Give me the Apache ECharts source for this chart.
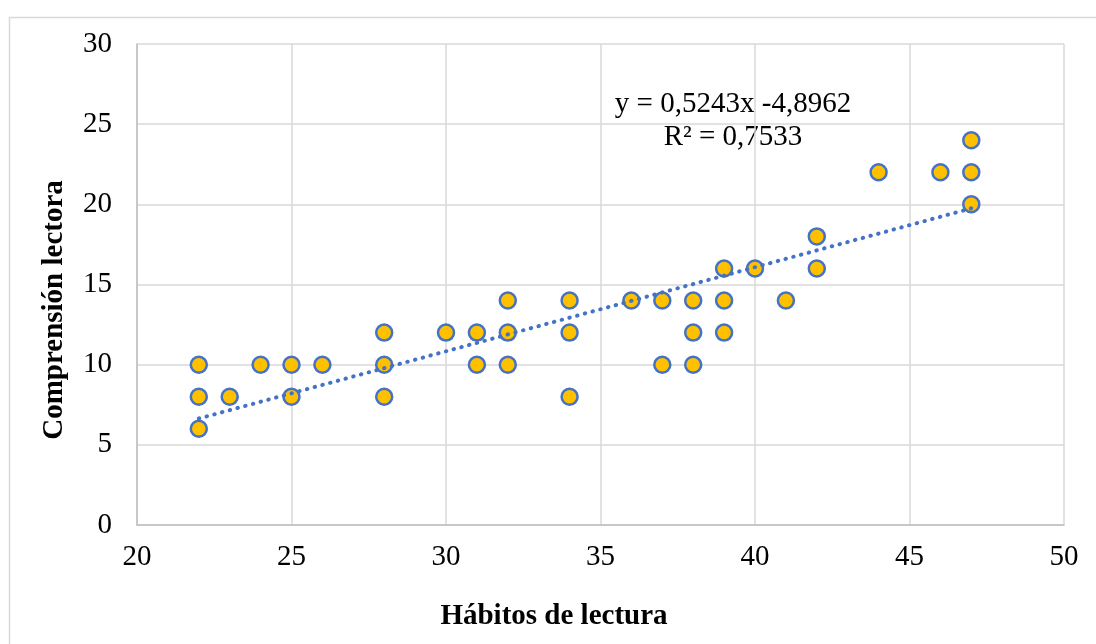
<!DOCTYPE html>
<html>
<head>
<meta charset="utf-8">
<script src="https://cdn.jsdelivr.net/npm/echarts@6/dist/echarts.min.js"></script>
<style>
html,body{margin:0;padding:0;background:#fff;}
#chart{width:1096px;height:644px;}
</style>
</head>
<body>
<div id="chart"></div>
<script>
// Data
var habitos = [22,22,22,23,24,25,25,26,28,28,28,30,31,31,32,32,32,34,34,34,36,37,37,38,38,38,39,39,39,40,41,42,42,44,46,47,47,47];
var comprension = [10,8,6,8,10,10,8,10,12,10,8,12,12,10,14,12,10,14,12,8,14,14,10,14,12,10,16,14,12,16,14,18,16,22,22,24,22,20];
var trendX = [22, 47];
var trendY = [6.64, 19.75];
var xTicks = [20,25,30,35,40,45,50];
var yTicks = [0,5,10,15,20,25,30];
var eqText = 'y = 0,5243x -4,8962';
var r2Text = 'R² = 0,7533';
var xTitle = 'Hábitos de lectura';
var yTitle = 'Comprensión lectora';

var pts = habitos.map(function(x,i){return [x, comprension[i]];});
var trend = trendX.map(function(x,i){return [x, trendY[i]];});
var FONT = '"Liberation Serif","Times New Roman",serif';

var chart = echarts.init(document.getElementById('chart'));
chart.setOption({
  animation:false,
  backgroundColor:'#fff',
  grid:{left:137, top:44, right:32, bottom:119, containLabel:false},
  xAxis:{
    type:'value', min:xTicks[0], max:xTicks[xTicks.length-1], interval:5,
    axisLine:{show:true, onZero:false, lineStyle:{color:'#bfbfbf', width:1.5}},
    axisTick:{show:false},
    axisLabel:{color:'#000', fontFamily:FONT, fontSize:29, margin:18},
    splitLine:{show:true, lineStyle:{color:'#d9d9d9', width:1.5}}
  },
  yAxis:{
    type:'value', min:yTicks[0], max:yTicks[yTicks.length-1], interval:5,
    axisLine:{show:true, lineStyle:{color:'#bfbfbf', width:1.5}},
    axisTick:{show:false},
    axisLabel:{color:'#000', fontFamily:FONT, fontSize:29, margin:25},
    splitLine:{show:true, lineStyle:{color:'#d9d9d9', width:1.5}}
  },
  graphic:[
    {type:'rect', left:7, top:15, shape:{width:1200, height:700}, style:{fill:'none', stroke:'#d9d9d9', lineWidth:1.5}, silent:true, z:-1},
    {type:'text', x:554, y:617, style:{text:xTitle, font:'bold 29px '+FONT, fill:'#000', textAlign:'center', textVerticalAlign:'middle'}},
    {type:'text', x:55, y:310, rotation:Math.PI/2, style:{text:yTitle, font:'bold 29px '+FONT, fill:'#000', textAlign:'center', textVerticalAlign:'middle'}},
    {type:'text', x:733, y:104, style:{text:eqText, font:'29px '+FONT, fill:'#000', textAlign:'center', textVerticalAlign:'middle'}},
    {type:'text', x:733, y:137, style:{text:r2Text, font:'29px '+FONT, fill:'#000', textAlign:'center', textVerticalAlign:'middle'}}
  ],
  series:[
    {
      type:'line', data:trend, symbol:'none', z:3,
      lineStyle:{color:'#4472C4', width:4, type:[0.5,7.5], cap:'round'}
    },
    {
      type:'scatter', data:pts, symbol:'circle', symbolSize:16, z:2,
      itemStyle:{color:'#FFC000', borderColor:'#4472C4', borderWidth:2.5, opacity:1}
    }
  ]
});
</script>
</body>
</html>
